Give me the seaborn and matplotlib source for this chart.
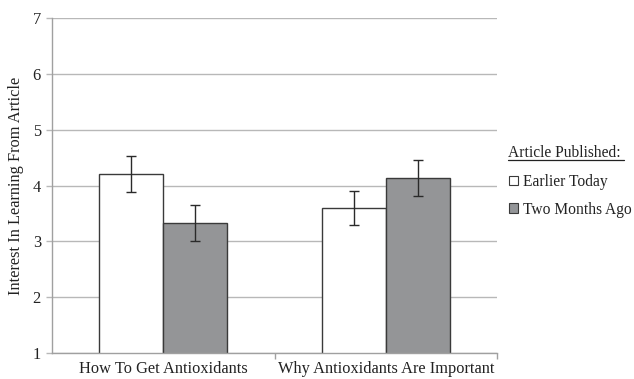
import matplotlib
matplotlib.use("Agg")
import matplotlib.pyplot as plt
from matplotlib.patches import Patch
from matplotlib.lines import Line2D
import seaborn as sns
import pandas as pd

# Mean interest ratings and standard errors per condition
topics = ["How To Get Antioxidants", "Why Antioxidants Are Important"]
conditions = ["Earlier Today", "Two Months Ago"]
means_today = [4.20, 3.60]
means_months = [3.33, 4.13]
err_today = [0.32, 0.31]
err_months = [0.32, 0.32]

df = pd.DataFrame({
    "topic": topics * 2,
    "condition": [conditions[0]] * 2 + [conditions[1]] * 2,
    "mean": means_today + means_months,
    "err": err_today + err_months,
})

sns.set_theme(style="white")
plt.rcParams["font.family"] = ["Liberation Serif", "DejaVu Serif"]
FS = 11.8
LFS = 11.2

fig = plt.figure(figsize=(6.34, 3.79), dpi=100)
ax = fig.add_axes([0.082, 0.0686, 0.702, 0.8839])

palette = {conditions[0]: "#ffffff", conditions[1]: "#939598"}
sns.barplot(data=df, x="topic", y="mean", hue="condition", hue_order=conditions,
            order=topics, palette=palette, width=0.575, edgecolor="#3a3a3a",
            linewidth=1.0, errorbar=None, legend=False, ax=ax)

# Error bars on top of each bar
for bars, cond in zip(ax.containers, conditions):
    sub = df[df["condition"] == cond].set_index("topic").loc[topics]
    xs = [b.get_x() + b.get_width() / 2 for b in bars]
    ax.errorbar(xs, sub["mean"].values, yerr=sub["err"].values, fmt="none",
                ecolor="#2a2a2a", elinewidth=1.0, capsize=3.5, capthick=1.0, zorder=5)

ax.set_ylim(1, 7)
ax.set_xlim(-0.5, 1.5)
ax.set_yticks(range(1, 8))
ax.yaxis.grid(True, color="#b8b8b8", linewidth=1.0)
ax.set_axisbelow(True)
for s in ["top", "right"]:
    ax.spines[s].set_visible(False)
for s in ["left", "bottom"]:
    ax.spines[s].set_color("#a0a0a0")
    ax.spines[s].set_linewidth(1.0)

ax.set_xticks([0, 1])
ax.set_xticklabels(topics)
ax.tick_params(axis="x", length=0, labelsize=FS, pad=6, colors="#222222")
ax.tick_params(axis="y", length=4, width=1.0, color="#b8b8b8", labelsize=FS,
               pad=4, labelcolor="#222222", left=True)
# Category boundary ticks on the x axis
ax.set_xticks([0.5, 1.5], minor=True)
ax.tick_params(axis="x", which="minor", length=4, width=1.0, color="#a0a0a0", bottom=True)
ax.set_xlabel("")
ax.set_ylabel("Interest In Learning From Article", fontsize=FS, color="#222222", labelpad=6)

# Legend with underlined title
fig.text(0.801, 0.597, "Article Published:", fontsize=LFS, color="#222222", va="center", ha="left")
fig.add_artist(Line2D([0.801, 0.984], [0.579, 0.579], color="#222222", linewidth=0.9,
                      transform=fig.transFigure))
handles = [Patch(facecolor=palette[c], edgecolor="#3a3a3a", linewidth=0.8, label=c)
           for c in conditions]
fig.legend(handles=handles, loc="upper left", bbox_to_anchor=(0.803, 0.541),
           frameon=False, fontsize=LFS, handlelength=0.6, handleheight=0.6,
           handletextpad=0.3, labelspacing=0.75, borderpad=0, borderaxespad=0,
           labelcolor="#222222")

fig.savefig("out.png", dpi=100)
